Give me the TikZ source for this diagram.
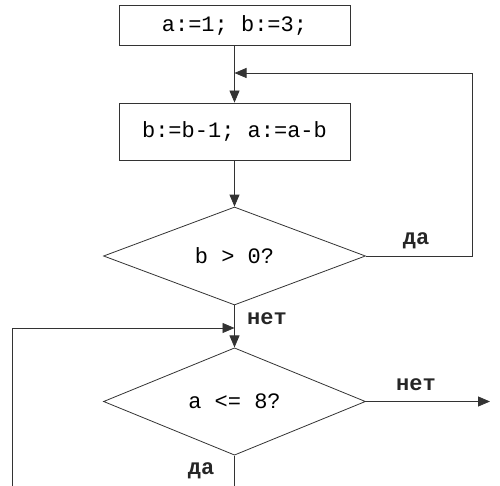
\documentclass[tikz,border=0pt]{standalone}
\usepackage{fontspec}
\setmonofont{Liberation Mono}
\usetikzlibrary{positioning,arrows.meta,shapes.geometric}
\tikzset{
  opbox/.style={draw=black!80,line width=0.8pt,
               minimum width=231pt,minimum height=40pt,inner sep=0pt,
               font=\fontsize{22}{26}\selectfont\ttfamily},
  cond/.style={diamond,draw=black!80,line width=0.8pt,
               minimum width=262pt,minimum height=98pt,inner sep=0pt,
               font=\fontsize{22}{26}\selectfont\ttfamily},
  arr/.style={-{Triangle[length=12pt,width=10pt]},line width=0.8pt,black!80},
  ln/.style={line width=0.8pt,black!80},
  lbl/.style={font=\fontsize{22}{26}\selectfont\ttfamily\bfseries,text=black!85},
}
\begin{document}
\begin{tikzpicture}[x=1pt,y=-1pt]
  \useasboundingbox (0,0) rectangle (500,486);
  \node[opbox] (init) at (234.5,25) {a:=1; b:=3;};
  \node[opbox,minimum height=57pt] (body) at (234.5,131.5) {b:=b-1; a:=a-b};
  \node[cond] (c1) at (234.5,256) {b > 0?};
  \node[cond] (c2) at (234.5,401.5) {a <= 8?};
  \coordinate (j1) at (234.5,73);
  \coordinate (loopR) at (472.5,73);
  \coordinate (j2) at (234.5,328);
  \coordinate (loopL) at (12,486);
  \coordinate (exit) at (490,401.5);
  \coordinate (bot) at (234.5,486);
  \draw[arr] (init) -- (body);
  \draw[arr] (body) -- (c1);
  \draw[arr] (c1) -- (c2);
  \draw[arr] (c1.east) -| (loopR) -- (j1);
  \draw[arr] (loopL) |- (j2);
  \draw[arr] (c2.east) -- (exit);
  \draw[ln] (c2.south) -- (bot);
  \node[lbl] (yes1) at (416,241) {да};
  \node[lbl] (no1) at (267,319) {нет};
  \node[lbl] (no2) at (416,385) {нет};
  \node[lbl] (yes2) at (201,471) {да};
\end{tikzpicture}
\end{document}
